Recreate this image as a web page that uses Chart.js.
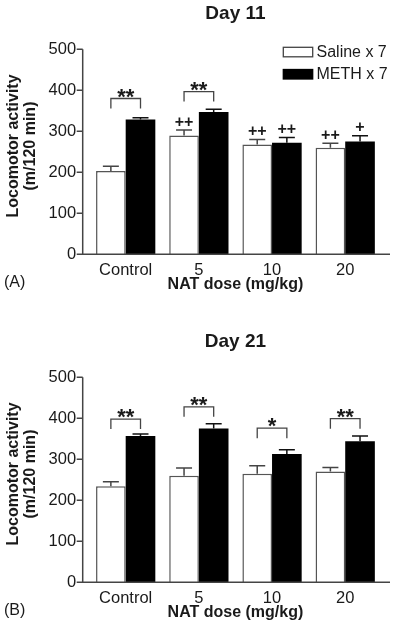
<!DOCTYPE html>
<html>
<head>
<meta charset="utf-8">
<script src="https://cdn.jsdelivr.net/npm/chart.js@4"></script>
<style>
  body { margin: 0; background: #fff; }
  .panel { position: absolute; left: 0; width: 400px; height: 300px; }
  #panelA { top: 0; }
  #panelB { top: 328px; }
</style>
</head>
<body>
<div class="panel" id="panelA"><canvas id="day11" width="400" height="300"></canvas></div>
<div class="panel" id="panelB"><canvas id="day21" width="400" height="300"></canvas></div>
<script>
// ---- data ----
const doseLabels = ['Control', '5', '10', '20'];
const yTicks = [0, 100, 200, 300, 400, 500];
const seriesNames = ['Saline x 7', 'METH x 7'];

const day11Saline = [203, 290, 268, 260];
const day11SalineErr = [12, 13, 12, 11];
const day11Meth = [329, 347, 272, 275];
const day11MethErr = [4, 7, 13, 14];
const day11SalineMarks = ['', '++', '++', '++'];
const day11MethMarks = ['', '', '++', '+'];
const day11BracketLevel = [380, 397, null, null];
const day11BracketStars = ['**', '**', '', ''];

const day21Saline = [234, 260, 265, 270];
const day21SalineErr = [11, 19, 19, 10];
const day21Meth = [357, 375, 313, 344];
const day21MethErr = [5, 12, 10, 13];
const day21SalineMarks = ['', '', '', ''];
const day21MethMarks = ['', '', '', ''];
const day21BracketLevel = [398, 428, 376, 399];
const day21BracketStars = ['**', '**', '*', '**'];

const FONT = '"Liberation Sans", Arial, Helvetica, sans-serif';
const INK = '#1a1a1a';
const LINE = '#444';

// draws axes, error bars, significance marks, legend and side labels
const extrasPlugin = {
    id: 'extras',
    afterDraw(chart, args, opts) {
        const ctx = chart.ctx;
        const area = chart.chartArea;
        const y = chart.scales.y;
        const axisX = area.left - 6.4;
        const y0 = y.getPixelForValue(0);
        const yTop = y.getPixelForValue(500);

        ctx.save();
        // error bars
        opts.errors.forEach((errs, di) => {
            const meta = chart.getDatasetMeta(di);
            const vals = chart.data.datasets[di].data;
            meta.data.forEach((bar, j) => {
                const top = y.getPixelForValue(vals[j]);
                const cap = y.getPixelForValue(vals[j] + errs[j]);
                ctx.strokeStyle = di === 0 ? LINE : '#111';
                ctx.lineWidth = 1.5;
                ctx.beginPath();
                ctx.moveTo(bar.x, top);
                ctx.lineTo(bar.x, cap);
                ctx.moveTo(bar.x - 8, cap);
                ctx.lineTo(bar.x + 8, cap);
                ctx.stroke();

                const mark = opts.marks[di][j];
                if (mark) {
                    ctx.fillStyle = INK;
                    ctx.font = 'bold 16px ' + FONT;
                    ctx.textAlign = 'center';
                    ctx.textBaseline = 'alphabetic';
                    ctx.fillText(mark, bar.x, cap - 3.5);
                }
            });
        });

        // significance brackets
        const m0 = chart.getDatasetMeta(0), m1 = chart.getDatasetMeta(1);
        opts.bracketLevel.forEach((lvl, j) => {
            if (lvl == null) return;
            const x1 = m0.data[j].x, x2 = m1.data[j].x;
            const yl = y.getPixelForValue(lvl);
            ctx.strokeStyle = LINE;
            ctx.lineWidth = 1.3;
            ctx.beginPath();
            ctx.moveTo(x1, yl + 10);
            ctx.lineTo(x1, yl);
            ctx.lineTo(x2, yl);
            ctx.lineTo(x2, yl + 10);
            ctx.stroke();
            ctx.fillStyle = INK;
            ctx.font = 'bold 22px ' + FONT;
            ctx.textAlign = 'center';
            ctx.textBaseline = 'alphabetic';
            ctx.fillText(opts.stars[j], (x1 + x2) / 2, yl + 5);
        });

        // axis lines with outward ticks on y
        ctx.strokeStyle = LINE;
        ctx.lineWidth = 1.5;
        ctx.beginPath();
        ctx.moveTo(axisX, yTop);
        ctx.lineTo(axisX, y0);
        ctx.lineTo(area.right + 8.2, y0);
        y.ticks.forEach(t => {
            const py = y.getPixelForValue(t.value);
            ctx.moveTo(axisX - 6, py);
            ctx.lineTo(axisX, py);
        });
        ctx.stroke();

        // y axis title, two lines rotated
        ctx.fillStyle = INK;
        ctx.font = 'bold 16px ' + FONT;
        ctx.textAlign = 'center';
        ctx.textBaseline = 'middle';
        ctx.save();
        ctx.translate(13.3, 146);
        ctx.rotate(-Math.PI / 2);
        ctx.fillText('Locomotor activity', 0, 0);
        ctx.fillText('(m/120 min)', 0, 17);
        ctx.restore();

        // panel tag
        ctx.font = '16px ' + FONT;
        ctx.textAlign = 'left';
        ctx.fillText(opts.tag, 4, 283);

        // legend inside the plot
        if (opts.legend) {
            const lx = 283.3;
            [[47.3, '#fff', LINE], [69.5, '#000', '#000']].forEach((row, i) => {
                ctx.fillStyle = row[1];
                ctx.strokeStyle = row[2];
                ctx.lineWidth = 1.3;
                ctx.fillRect(lx, row[0], 29.4, 9.5);
                ctx.strokeRect(lx, row[0], 29.4, 9.5);
                ctx.fillStyle = INK;
                ctx.font = '16px ' + FONT;
                ctx.textAlign = 'left';
                ctx.textBaseline = 'middle';
                ctx.fillText(seriesNames[i], 316.5, row[0] + 5.5);
            });
        }
        ctx.restore();
    }
};

function makePanel(canvasId, title, tag, saline, salineErr, meth, methErr, salineMarks, methMarks, bracketLevel, stars, legend) {
    const ctx = document.getElementById(canvasId).getContext('2d');
    return new Chart(ctx, {
        type: 'bar',
        data: {
            labels: doseLabels,
            datasets: [{
                label: seriesNames[0],
                data: saline,
                backgroundColor: '#fff',
                borderColor: '#555',
                borderWidth: 1.5,
                categoryPercentage: 0.81,
                barPercentage: 1.0
            }, {
                label: seriesNames[1],
                data: meth,
                backgroundColor: '#000',
                borderColor: '#000',
                borderWidth: 0,
                categoryPercentage: 0.81,
                barPercentage: 1.0
            }]
        },
        options: {
            responsive: false,
            animation: false,
            layout: { padding: { left: 0, right: 18.2, top: 0, bottom: 5.9 } },
            plugins: {
                legend: { display: false },
                tooltip: { enabled: false },
                title: {
                    display: true,
                    text: title,
                    fullSize: false,
                    color: INK,
                    font: { family: FONT, size: 19, weight: 'bold', lineHeight: 1.2 },
                    padding: { top: 2, bottom: 24.5 }
                },
                extras: {
                    tag: tag,
                    legend: legend,
                    errors: [salineErr, methErr],
                    marks: [salineMarks, methMarks],
                    bracketLevel: bracketLevel,
                    stars: stars
                }
            },
            scales: {
                x: {
                    offset: true,
                    grid: { display: false, drawTicks: false },
                    border: { display: false },
                    ticks: { color: INK, font: { family: FONT, size: 16.5 }, padding: 6 },
                    title: {
                        display: true,
                        text: 'NAT dose (mg/kg)',
                        color: INK,
                        font: { family: FONT, size: 16, weight: 'bold', lineHeight: 1.2 },
                        padding: 0
                    },
                    afterFit: s => { s.height = 39.8; }
                },
                y: {
                    min: 0,
                    max: 500,
                    grid: { display: false, drawTicks: false },
                    border: { display: false },
                    ticks: { color: INK, font: { family: FONT, size: 16.5 }, padding: 13 },
                    afterBuildTicks: s => { s.ticks = yTicks.map(v => ({ value: v })); },
                    afterFit: s => { s.width = 89.1; }
                }
            }
        },
        plugins: [extrasPlugin]
    });
}

makePanel('day11', 'Day 11', '(A)', day11Saline, day11SalineErr, day11Meth, day11MethErr,
    day11SalineMarks, day11MethMarks, day11BracketLevel, day11BracketStars, true);
makePanel('day21', 'Day 21', '(B)', day21Saline, day21SalineErr, day21Meth, day21MethErr,
    day21SalineMarks, day21MethMarks, day21BracketLevel, day21BracketStars, false);
</script>
</body>
</html>
